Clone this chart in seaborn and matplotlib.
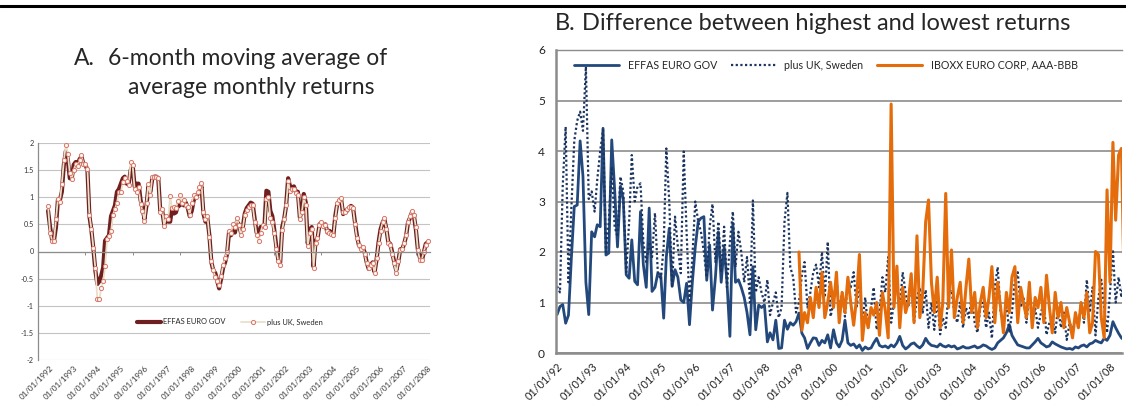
import numpy as np
import pandas as pd
import matplotlib
matplotlib.use("Agg")
import matplotlib.pyplot as plt
from matplotlib.lines import Line2D
import seaborn as sns

sns.set_theme(style="white")
plt.rcParams['font.family'] = ['Lato', 'DejaVu Sans']

# ---------------------------------------------------------------------------
# Panel A: 6-month moving average of average monthly returns (monthly, from Dec 1991)
# ---------------------------------------------------------------------------
effas_ma = [
    0.75, 0.45, 0.22, 0.2, 0.45, 0.95, 0.95, 1.1, 1.6, 1.85, 1.7, 1.35,
    1.35, 1.6, 1.65, 1.6, 1.7, 1.75, 1.6, 1.6, 1.5, 0.65, 0.4, 0.05,
    -0.35, -0.6, -0.55, -0.45, -0.3, 0.2, 0.25, 0.3, 0.65, 0.75, 0.85, 1.1,
    1.15, 1.25, 1.35, 1.38, 1.25, 1.25, 1.5, 1.6, 1.2, 1.25, 1.25, 0.95,
    0.8, 0.6, 0.85, 1.2, 1.1, 1.35, 1.38, 1.38, 1.35, 0.75, 0.75, 0.5,
    0.6, 0.55, 0.55, 0.8, 0.7, 0.72, 0.85, 0.85, 0.9, 0.85, 0.9, 0.8,
    0.65, 0.75, 0.95, 1.0, 1.05, 1.1, 1.2, 0.7, 0.55, 0.6, 0.3, -0.2,
    -0.35, -0.4, -0.55, -0.68, -0.5, -0.3, -0.2, -0.05, 0.35, 0.3, 0.4, 0.35,
    0.55, 0.5, 0.35, 0.45, 0.7, 0.8, 0.85, 0.9, 0.88, 0.6, 0.35, 0.3,
    0.45, 0.45, 0.5, 1.12, 1.1, 0.75, 0.65, 0.4, 0.1, -0.15, -0.2, 0.45,
    0.6, 0.85, 1.35, 1.2, 1.18, 1.2, 1.1, 1.1, 0.63, 0.75, 1.06, 0.9,
    0.15, 0.4, 0.45, -0.28, 0.2, 0.23, 0.5, 0.53, 0.48, 0.5, 0.35, 0.38,
    0.35, 0.29, 0.66, 0.87, 0.93, 0.96, 0.69, 0.75, 0.75, 0.81, 0.84, 0.81,
    0.54, 0.29, 0.11, 0.07, 0.07, -0.02, -0.2, -0.32, -0.26, -0.2, -0.38, -0.14,
    0.17, 0.41, 0.53, 0.6, 0.41, 0.17, 0.14, -0.02, -0.2, -0.35, -0.2, 0.04,
    0.04, 0.14, 0.29, 0.53, 0.62, 0.72, 0.66, 0.41, 0.04, -0.11, -0.17, -0.02,
    0.14, 0.17,
]
plus_uk_ma = [
    0.83, 0.35, 0.2, 0.2, 0.6, 0.97, 0.92, 1.25, 1.68, 1.97, 1.8, 1.45,
    1.33, 1.5, 1.62, 1.57, 1.68, 1.77, 1.62, 1.62, 1.52, 0.68, 0.42, 0.07,
    -0.3, -0.87, -0.88, -0.68, -0.55, -0.27, 0.23, 0.28, 0.37, 0.68, 0.78, 0.9,
    1.1, 1.1, 1.28, 1.35, 1.3, 1.22, 1.65, 1.6, 1.15, 1.09, 1.18, 0.87,
    0.75, 0.57, 0.9, 1.25, 1.05, 1.38, 1.38, 1.38, 1.35, 0.72, 0.78, 0.47,
    0.65, 0.6, 1.02, 0.8, 0.82, 0.8, 0.93, 1.05, 0.9, 0.95, 0.85, 0.82,
    0.68, 0.9, 1.05, 1.0, 1.1, 1.18, 1.27, 0.72, 0.6, 0.65, 0.27, -0.18,
    -0.35, -0.47, -0.55, -0.62, -0.45, -0.25, -0.12, 0.0, 0.38, 0.35, 0.5, 0.45,
    0.62, 0.48, 0.3, 0.42, 0.68, 0.77, 0.82, 0.86, 0.85, 0.55, 0.3, 0.2,
    0.35, 0.48, 0.45, 0.97, 1.0, 0.62, 0.55, 0.35, 0.05, -0.18, -0.25, 0.4,
    0.6, 0.85, 1.3, 1.12, 1.15, 1.15, 1.08, 1.05, 0.6, 0.72, 1.0, 0.85,
    0.1, 0.35, 0.42, -0.3, 0.15, 0.25, 0.48, 0.55, 0.47, 0.48, 0.38, 0.35,
    0.33, 0.3, 0.62, 0.9, 0.95, 0.98, 0.72, 0.72, 0.78, 0.82, 0.82, 0.8,
    0.5, 0.25, 0.12, 0.05, 0.08, -0.05, -0.22, -0.3, -0.25, -0.22, -0.4, -0.12,
    0.15, 0.38, 0.55, 0.62, 0.42, 0.15, 0.12, -0.05, -0.22, -0.4, -0.18, 0.02,
    0.05, 0.15, 0.3, 0.55, 0.65, 0.75, 0.68, 0.45, 0.02, -0.15, -0.15, 0.0,
    0.12, 0.2,
]
years_a = list(range(1992, 2009))

# ---------------------------------------------------------------------------
# Panel B: difference between highest and lowest monthly returns (from Jan 1992)
# ---------------------------------------------------------------------------
effas_spread = [
    0.76, 0.92, 0.96, 0.59, 0.75, 1.9, 2.9, 2.93, 4.2, 3.5, 1.4, 0.76,
    2.4, 2.3, 2.54, 2.5, 4.45, 1.94, 1.98, 4.22, 3.23, 2.1, 3.3, 3.05,
    1.55, 1.48, 2.24, 1.42, 1.35, 2.8, 1.75, 1.3, 2.87, 1.22, 1.3, 1.58,
    1.55, 0.69, 1.9, 2.47, 1.32, 1.65, 1.5, 1.05, 1.0, 1.38, 0.56, 1.4,
    2.1, 2.6, 2.67, 2.7, 1.44, 2.14, 0.85, 1.5, 2.4, 1.4, 2.1, 1.4,
    0.33, 2.57, 1.4, 1.45, 1.3, 1.1, 0.8, 0.36, 1.71, 0.46, 0.95, 0.9,
    0.95, 0.22, 0.4, 0.26, 0.65, 0.09, 0.1, 0.65, 0.47, 0.6, 0.55, 0.62,
    0.79, 0.39, 0.3, 0.09, 0.2, 0.3, 0.29, 0.15, 0.25, 0.2, 0.36, 0.1,
    0.46, 0.2, 0.12, 0.25, 0.65, 0.2, 0.15, 0.18, 0.1, 0.16, 0.05, 0.12,
    0.08, 0.1, 0.2, 0.29, 0.15, 0.12, 0.14, 0.1, 0.16, 0.12, 0.2, 0.33,
    0.15, 0.08, 0.12, 0.18, 0.2, 0.14, 0.1, 0.16, 0.29, 0.2, 0.15, 0.14,
    0.12, 0.18, 0.14, 0.12, 0.15, 0.12, 0.14, 0.08, 0.1, 0.13, 0.1, 0.1,
    0.12, 0.14, 0.1, 0.12, 0.16, 0.14, 0.1, 0.07, 0.1, 0.2, 0.25, 0.3,
    0.4, 0.56, 0.35, 0.25, 0.16, 0.14, 0.12, 0.1, 0.1, 0.16, 0.22, 0.29,
    0.2, 0.16, 0.12, 0.14, 0.22, 0.18, 0.15, 0.12, 0.1, 0.08, 0.09, 0.07,
    0.12, 0.1, 0.14, 0.16, 0.12, 0.18, 0.2, 0.25, 0.22, 0.2, 0.29, 0.25,
    0.35, 0.62, 0.5, 0.39, 0.3, 0.25,
]
plus_uk_spread = [
    1.32, 1.2, 3.3, 4.48, 1.4, 2.9, 4.2, 4.6, 4.78, 4.4, 5.67, 3.05,
    3.2, 2.8, 3.43, 4.0, 4.42, 2.0, 2.6, 3.69, 2.5, 2.3, 3.49, 3.2,
    1.6, 2.6, 3.92, 3.0, 3.3, 3.36, 2.2, 1.8, 2.2, 1.9, 2.77, 1.6,
    1.45, 2.1, 4.05, 3.0, 1.3, 2.7, 2.1, 1.58, 3.99, 2.4, 1.0, 1.9,
    3.0, 2.6, 2.4, 2.0, 1.5, 2.5, 2.95, 1.8, 2.6, 1.6, 2.5, 1.3,
    2.2, 2.8, 1.7, 2.4, 2.0, 1.4, 1.9, 1.0, 3.02, 1.2, 1.5, 1.2,
    1.0, 1.45, 0.75, 1.0, 1.2, 0.7, 0.9, 2.6, 3.17, 1.7, 1.5, 0.8,
    1.0, 1.55, 1.8, 0.9, 1.2, 1.6, 1.75, 1.3, 2.0, 1.1, 2.2, 0.72,
    1.0, 1.5, 0.8, 1.2, 0.72, 1.45, 1.3, 1.6, 0.9, 1.4, 0.6, 1.1,
    0.5, 0.9, 1.3, 0.46, 0.8, 1.5, 1.2, 1.9, 0.6, 1.0, 1.4, 0.9,
    1.6, 1.2, 0.9, 1.45, 0.6, 1.1, 1.3, 0.8, 1.25, 0.5, 1.0, 0.46,
    1.1, 0.37, 0.7, 0.5, 1.2, 1.25, 0.8, 0.6, 1.0, 0.5, 0.9, 0.7,
    1.12, 0.6, 0.4, 0.9, 1.0, 0.5, 0.8, 0.29, 1.31, 1.7, 0.8, 0.55,
    1.0, 0.4, 0.8, 1.45, 1.6, 0.9, 1.1, 0.6, 1.2, 0.59, 0.9, 0.5,
    0.8, 1.0, 0.36, 0.6, 0.7, 0.4, 0.9, 0.5, 0.8, 0.26, 0.6, 0.45,
    0.7, 0.5, 1.0, 0.6, 1.45, 0.8, 1.3, 0.35, 1.1, 1.45, 0.9, 0.4,
    1.2, 2.05, 1.0, 1.5, 1.1, 1.5,
]
iboxx_spread = [
    2.0, 0.45, 0.8, 0.6, 1.1, 0.7, 1.3, 0.9, 1.6, 0.7, 1.0, 1.4,
    0.9, 1.6, 0.6, 1.2, 0.8, 1.5, 1.0, 0.55, 1.1, 1.95, 0.25, 0.8,
    0.5, 0.9, 0.75, 1.0, 0.35, 1.2, 0.85, 0.3, 4.93, 0.9, 1.72, 0.5,
    1.3, 0.8, 1.0, 1.57, 0.6, 2.32, 0.7, 1.2, 2.6, 3.03, 1.4, 0.8,
    1.5, 0.5, 1.0, 3.16, 0.9, 2.04, 0.7, 1.1, 1.4, 0.6, 1.3, 1.86,
    0.8, 1.2, 0.5, 1.0, 1.3, 0.7, 1.1, 1.71, 0.6, 1.4, 0.9, 0.4,
    1.2, 0.8, 1.5, 1.71, 0.6, 1.3, 1.0, 0.7, 1.4, 0.5, 1.1, 0.9,
    1.3, 0.6, 1.54, 0.9, 0.4, 1.2, 0.7, 1.0, 0.5, 0.9, 0.6, 0.3,
    0.8, 0.5, 1.0, 0.7, 1.2, 0.4, 0.6, 2.01, 1.95, 0.7, 0.3, 3.23,
    1.4, 4.17, 2.63, 3.92, 4.05, 1.1,
]
years_b = list(range(1992, 2009))

# ---------------------------------------------------------------------------
W, H = 1126, 408
fig = plt.figure(figsize=(W / 100, H / 100), dpi=100)
fig.patch.set_facecolor("white")


def px(x, y):
    """Pixel position (from top-left) to figure fraction."""
    return x / W, 1 - y / H


# heavy rule across the top of the page
fig.add_artist(Line2D([0, 1], [1 - 6 / H, 1 - 6 / H], transform=fig.transFigure,
                      color="black", lw=2.2))

# ---------------- Panel A ----------------
dfA = pd.DataFrame({
    "date": pd.date_range("1991-12-01", periods=len(effas_ma), freq="MS"),
    "EFFAS EURO GOV": effas_ma,
    "plus UK, Sweden": plus_uk_ma,
})

axA = fig.add_axes([38 / W, 48 / H, 392 / W, 217 / H])
sns.lineplot(data=dfA, x="date", y="EFFAS EURO GOV", ax=axA, color="#6E1F1F",
             lw=3.0, label="EFFAS EURO GOV")
sns.lineplot(data=dfA, x="date", y="plus UK, Sweden", ax=axA, color="#EADFC8",
             lw=1.3, marker="o", markersize=3.0, markerfacecolor="#FFF6EE",
             markeredgecolor="#D7766A", markeredgewidth=0.7,
             label="plus UK, Sweden")

axA.set_ylim(-2, 2)
axA.set_xlim(pd.Timestamp("1991-06-28"), pd.Timestamp("2008-02-05"))
yt = np.arange(-2, 2.01, 0.5)
axA.set_yticks(yt)
axA.set_yticklabels([f"{v:g}" for v in yt])
axA.tick_params(axis="y", labelsize=5.2, length=0, pad=3, labelcolor="#333333")
axA.yaxis.grid(True, color="#C4C4C4", lw=0.8)
axA.xaxis.grid(False)
axA.set_xlabel("")
axA.set_ylabel("")
for s in ("top", "right"):
    axA.spines[s].set_visible(False)
axA.spines["left"].set_color("#8C8C8C")
axA.spines["left"].set_linewidth(0.9)
axA.spines["bottom"].set_position(("data", 0))
axA.spines["bottom"].set_color("#8C8C8C")
axA.spines["bottom"].set_linewidth(0.9)
axA.set_xticks(pd.date_range("1991-07-01", "2008-01-01", freq="24MS"))
axA.tick_params(axis="x", direction="out", length=2.5, width=0.7, color="#8C8C8C",
                labelbottom=False, bottom=True)

secA = axA.secondary_xaxis(0.0)
secA.set_xticks([pd.Timestamp(f"{y}-01-01") for y in years_a])
secA.set_xticklabels([f"01/01/{y}" for y in years_a])
secA.tick_params(length=0, labelsize=5.8, pad=3, labelcolor="#333333")
secA.spines["bottom"].set_visible(False)
for lab in secA.get_xticklabels():
    lab.set_rotation(45)
    lab.set_ha("right")
    lab.set_rotation_mode("anchor")

legA = axA.legend(loc="center", bbox_to_anchor=(0.49, 0.175), ncol=2, frameon=False,
                  fontsize=5.4, handlelength=3.2, handletextpad=0.3, columnspacing=2.0)

fig.text(*px(74, 65), "A.", fontsize=16.5, va="baseline", ha="left")
fig.text(*px(108, 65), "6-month moving average of", fontsize=16.5, va="baseline", ha="left")
fig.text(*px(128, 94), "average monthly returns", fontsize=16.5, va="baseline", ha="left")

# ---------------- Panel B ----------------
dfB = pd.DataFrame({
    "date": pd.date_range("1992-01-01", periods=len(effas_spread), freq="MS"),
    "EFFAS EURO GOV": effas_spread,
    "plus UK, Sweden": plus_uk_spread,
})
dfC = pd.DataFrame({
    "date": pd.date_range("1999-01-01", periods=len(iboxx_spread), freq="MS"),
    "IBOXX EURO CORP, AAA-BBB": iboxx_spread,
})

axB = fig.add_axes([556 / W, 55 / H, 566 / W, 303 / H])
sns.lineplot(data=dfB, x="date", y="EFFAS EURO GOV", ax=axB, color="#23497C",
             lw=2.0, label="EFFAS EURO GOV")
sns.lineplot(data=dfB, x="date", y="plus UK, Sweden", ax=axB, color="#1B3460",
             lw=1.6, linestyle=(0, (1, 1.1)), label="plus UK, Sweden")
sns.lineplot(data=dfC, x="date", y="IBOXX EURO CORP, AAA-BBB", ax=axB,
             color="#E46C0A", lw=2.2, label="IBOXX EURO CORP, AAA-BBB")

axB.set_ylim(0, 6)
axB.set_xlim(pd.Timestamp("1991-12-21"), pd.Timestamp("2008-05-07"))
axB.set_yticks(range(0, 7))
axB.tick_params(axis="y", labelsize=8.6, length=0, pad=8, labelcolor="#222222")
axB.yaxis.grid(True, color="#8C8C8C", lw=1.2)
axB.xaxis.grid(False)
axB.set_xlabel("")
axB.set_ylabel("")
axB.spines["right"].set_visible(False)
for s in ("left", "bottom"):
    axB.spines[s].set_color("#8C8C8C")
    axB.spines[s].set_linewidth(1.8)
axB.spines["top"].set_color("#8C8C8C")
axB.spines["top"].set_linewidth(1.0)
axB.set_xticks([pd.Timestamp(f"{y}-01-01") for y in years_b])
axB.set_xticklabels([f"01/01/{str(y)[2:]}" for y in years_b])
axB.tick_params(axis="x", labelsize=7.8, length=0, pad=6, labelcolor="#222222")
for lab in axB.get_xticklabels():
    lab.set_rotation(45)
    lab.set_ha("right")
    lab.set_rotation_mode("anchor")

legB = axB.legend(loc="center left", bbox_to_anchor=(0.032, 0.95), ncol=3, frameon=False,
                  fontsize=7.7, handlelength=4.2, handletextpad=0.8, columnspacing=1.3,
                  borderaxespad=0, borderpad=0)
legB.set_clip_on(False)

fig.text(*px(555, 30), "B.", fontsize=17, va="baseline", ha="left")
fig.text(*px(582, 30), "Difference between highest and lowest returns", fontsize=17,
         va="baseline", ha="left")

fig.savefig("out.png", dpi=100, facecolor="white")
